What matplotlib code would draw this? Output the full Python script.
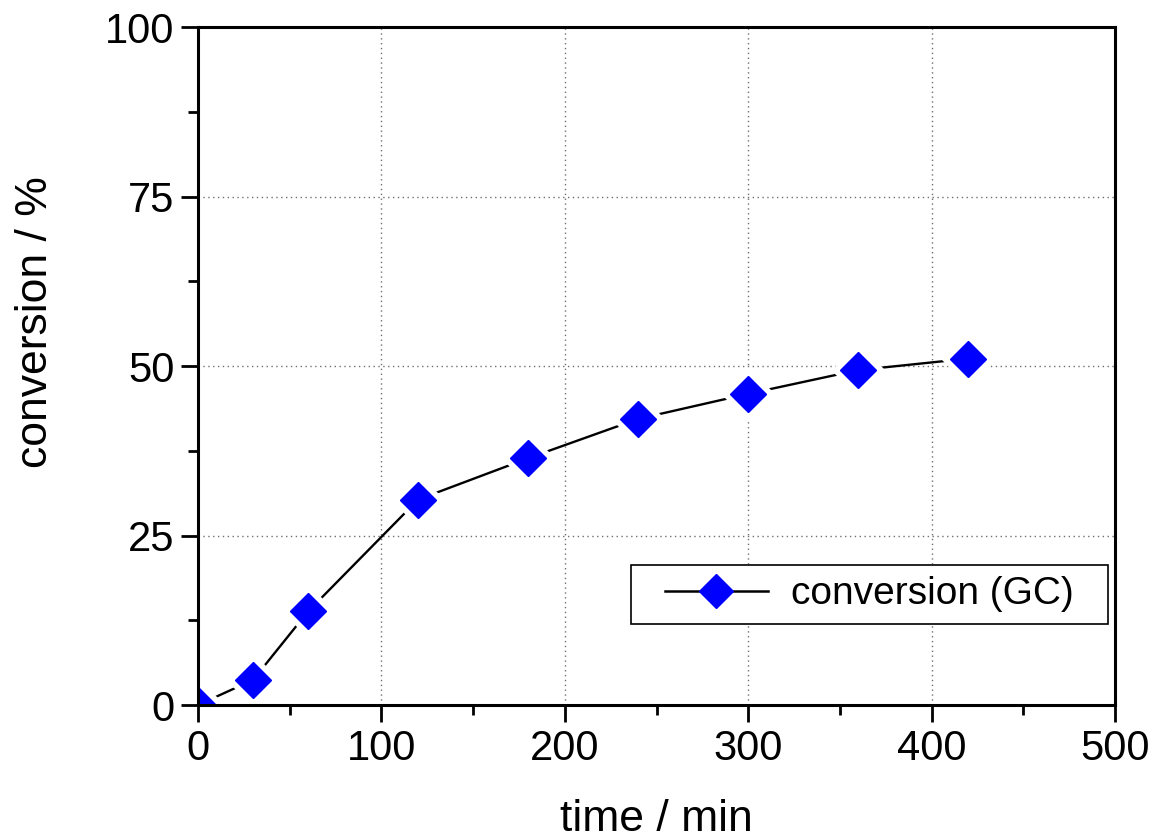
import matplotlib
matplotlib.use('Agg')
import matplotlib.pyplot as plt
from matplotlib.patches import Rectangle
from matplotlib.ticker import MultipleLocator

# data
time_min = [0, 30, 60, 120, 180, 240, 300, 360, 420]
conversion = [0.0, 3.7, 13.8, 30.3, 36.4, 42.2, 45.9, 49.4, 51.1]
series_label = "conversion (GC)"
x_label = "time / min"
y_label = "conversion / %"

plt.rcParams['font.family'] = ['Liberation Sans', 'DejaVu Sans']

fig = plt.figure(figsize=(11.52, 8.4), dpi=100)
ax = fig.add_axes([0.1719, 0.1607, 0.7960, 0.8071])

# line first, then a white halo under each marker to get the Origin-style gap
ax.plot(time_min, conversion, color='black', lw=1.7, zorder=2)
ax.plot(time_min, conversion, ls='none', marker='D', ms=26, color='white', zorder=3)
ax.plot(time_min, conversion, ls='none', marker='D', ms=18, color='#0000ff', zorder=4)

# proxy for the legend (no gap)
ax.plot([], [], color='black', lw=1.8, marker='D', ms=17, mfc='#0000ff', mec='#0000ff',
        label=series_label)

ax.set_xlim(0, 500)
ax.set_ylim(0, 100)
ax.xaxis.set_major_locator(MultipleLocator(100))
ax.xaxis.set_minor_locator(MultipleLocator(50))
ax.yaxis.set_major_locator(MultipleLocator(25))
ax.yaxis.set_minor_locator(MultipleLocator(12.5))

ax.grid(True, which='major', color='#707070', ls=(0, (1, 2.5)), lw=1.0)
ax.set_axisbelow(True)

for s in ax.spines.values():
    s.set_linewidth(2.2)
    s.set_zorder(5)

ax.tick_params(which='both', direction='out', top=False, right=False, width=2, labelsize=30, pad=5)
ax.tick_params(which='major', length=12)
ax.tick_params(which='minor', length=7)

ax.set_xlabel(x_label, fontsize=32)
ax.set_ylabel(y_label, fontsize=32)
ax.xaxis.set_label_coords(0.5, -0.139)
ax.yaxis.set_label_coords(-0.155, 0.565)

leg = ax.legend(loc='lower right', bbox_to_anchor=(0.968, 0.1195), borderaxespad=0,
                fontsize=28, frameon=False, handlelength=2.65, borderpad=0.3,
                handletextpad=0.6)

# Origin-style box: wider side padding than matplotlib's borderpad gives
fig.canvas.draw()
bb = leg.get_window_extent().transformed(fig.transFigure.inverted())
dx = 22 / 1152
ax.add_patch(Rectangle((bb.x0 - dx, bb.y0), bb.width + 2 * dx, bb.height,
                       transform=fig.transFigure, facecolor='white', edgecolor='black',
                       lw=1.2, zorder=4.5, clip_on=False))

fig.savefig('out.png', dpi=100)
